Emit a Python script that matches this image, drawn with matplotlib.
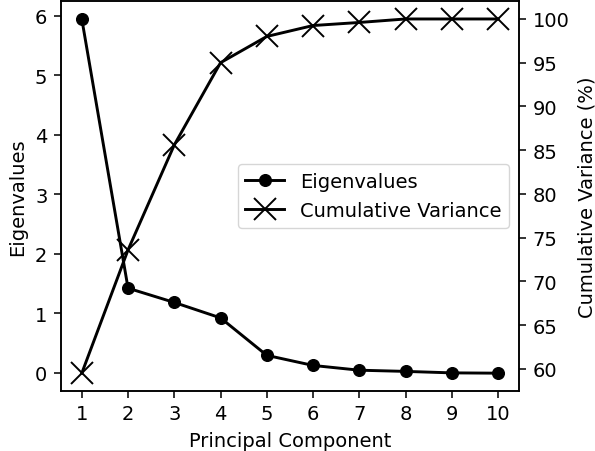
import matplotlib
matplotlib.use("Agg")
import matplotlib.pyplot as plt

components = [1, 2, 3, 4, 5, 6, 7, 8, 9, 10]
eigenvalues = [5.95, 1.42, 1.18, 0.92, 0.29, 0.12, 0.04, 0.02, -0.005, -0.01]
cumulative_variance = [59.5, 73.6, 85.6, 95.0, 98.0, 99.25, 99.6, 100.0, 100.0, 100.0]

s = 1.4
plt.rcParams['font.size'] = 10 * s
plt.rcParams['font.family'] = ['DejaVu Sans']
for a in ('xtick', 'ytick'):
    plt.rcParams[f'{a}.major.size'] = 3.5 * s
    plt.rcParams[f'{a}.major.pad'] = 3.5 * s
    plt.rcParams[f'{a}.major.width'] = 0.8 * s
plt.rcParams['axes.labelpad'] = 4.0 * s
plt.rcParams['axes.linewidth'] = 0.8 * s

fig, ax1 = plt.subplots(figsize=(5.95, 4.52), dpi=100)
fig.subplots_adjust(left=0.1025, right=0.872, top=0.995, bottom=0.133)

l1, = ax1.plot(components, eigenvalues, color='black', marker='o', markersize=6 * s,
               linewidth=1.5 * s, label='Eigenvalues')
ax1.set_xlabel('Principal Component')
ax1.set_ylabel('Eigenvalues')
ax1.set_xticks(components)

ax2 = ax1.twinx()
l2, = ax2.plot(components, cumulative_variance, color='black', marker='x', markersize=11 * s,
               markeredgewidth=1.0 * s, linewidth=1.5 * s, label='Cumulative Variance')
ax2.set_ylabel('Cumulative Variance (%)')
ax2.set_yticks([60, 65, 70, 75, 80, 85, 90, 95, 100])

ax2.legend([l1, l2], ['Eigenvalues', 'Cumulative Variance'], loc='center right')

fig.savefig('out.png', dpi=100)
